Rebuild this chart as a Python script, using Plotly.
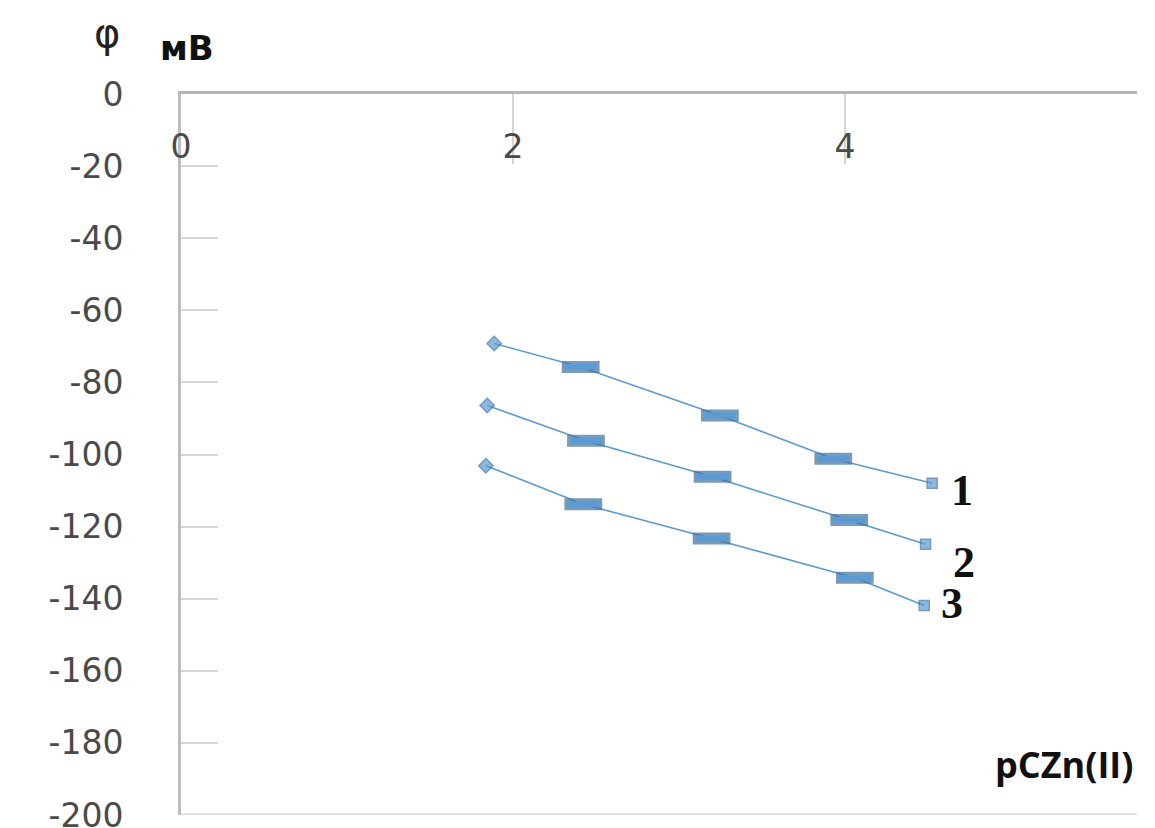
import plotly.graph_objects as go

# Data
x1 = [1.887, 2.408, 3.247, 3.930, 4.526]
y1 = [-69.2, -75.7, -89.2, -101.2, -108.0]
x2 = [1.845, 2.440, 3.203, 4.026, 4.486]
y2 = [-86.4, -96.2, -106.2, -118.2, -124.9]
x3 = [1.837, 2.424, 3.197, 4.060, 4.478]
y3 = [-103.1, -113.8, -123.3, -134.2, -141.9]
series_labels = ["1", "2", "3"]
x_ticks = [0, 2, 4]
y_ticks = [0, -20, -40, -60, -80, -100, -120, -140, -160, -180, -200]

BLUE = "#5b9bd5"
DARK = "#41719c"

fig = go.Figure()
series = [(x1, y1), (x2, y2), (x3, y3)]
for xs, ys in series:
    fig.add_trace(go.Scatter(x=xs, y=ys, mode="lines",
                             line=dict(color=BLUE, width=1.6), showlegend=False, hoverinfo="skip"))
    fig.add_trace(go.Scatter(
        x=xs, y=ys, mode="markers", showlegend=False,
        marker=dict(symbol=["diamond", "line-ew", "line-ew", "line-ew", "square"],
                    size=[11, 27, 27, 27, 10],
                    color=BLUE,
                    line=dict(color=DARK, width=[1.5, 12, 12, 12, 1.5]))))
    fig.add_trace(go.Scatter(
        x=xs[1:4], y=ys[1:4], mode="markers", showlegend=False,
        marker=dict(symbol="line-ew", size=23, color=BLUE,
                    line=dict(color=BLUE, width=6))))

# end labels 1, 2, 3
label_pos = [(4.63, y1[-1] - 2), (4.64, y2[-1] - 5), (4.57, y3[-1] + 0.5)]
for (lx, ly), t in zip(label_pos, series_labels):
    fig.add_annotation(x=lx, y=ly, text="<b>" + t + "</b>", showarrow=False, xanchor="left",
                       yanchor="middle",
                       font=dict(family="Liberation Serif", size=44, color="#111111"))

# bottom light frame line
fig.add_shape(type="line", xref="paper", yref="y", x0=0, x1=1, y0=-200, y1=-200,
              line=dict(color="#dcdcdc", width=3), layer="below")

fig.update_xaxes(range=[0, 5.76], side="top", tickvals=x_ticks, ticktext=[str(v) for v in x_ticks],
                 showline=True, linecolor="#b5b5b5", linewidth=3,
                 ticks="inside", ticklen=70, tickwidth=2, tickcolor="#d6d6d6",
                 ticklabelstandoff=-80, automargin=False,
                 tickfont=dict(family="DejaVu Sans", size=33, color="#4a4a4a"),
                 showgrid=False, zeroline=False)
fig.update_yaxes(range=[-200, 0], tickvals=y_ticks, ticktext=[str(v) for v in y_ticks],
                 showline=True, linecolor="#bdbdbd", linewidth=3,
                 ticks="inside", ticklen=37, tickwidth=2, tickcolor="#d6d6d6",
                 ticklabelstandoff=48, ticklabeloverflow="allow", automargin=False,
                 tickfont=dict(family="DejaVu Sans", size=33, color="#4a4a4a"),
                 showgrid=False, zeroline=False)

# axis titles
fig.add_annotation(xref="paper", yref="paper", x=-0.077, y=1.085, text="φ", showarrow=False,
                   xanchor="center", yanchor="middle",
                   font=dict(family="DejaVu Sans", size=40, color="#222222"))
fig.add_annotation(xref="paper", yref="paper", x=-0.024, y=1.064, text="<b>мВ</b>", showarrow=False,
                   xanchor="left", yanchor="middle",
                   font=dict(family="DejaVu Sans", size=34, color="#111111"))
fig.add_annotation(xref="paper", yref="paper", x=0.998, y=0.07, text="<b>pCZn(II)</b>", showarrow=False,
                   xanchor="right", yanchor="middle",
                   font=dict(family="Open Sans", size=36, color="#111111"))

fig.update_layout(width=1155, height=828, margin=dict(l=181, r=18, t=94, b=13),
                  paper_bgcolor="white", plot_bgcolor="white", showlegend=False)

fig.write_html("out.html")
